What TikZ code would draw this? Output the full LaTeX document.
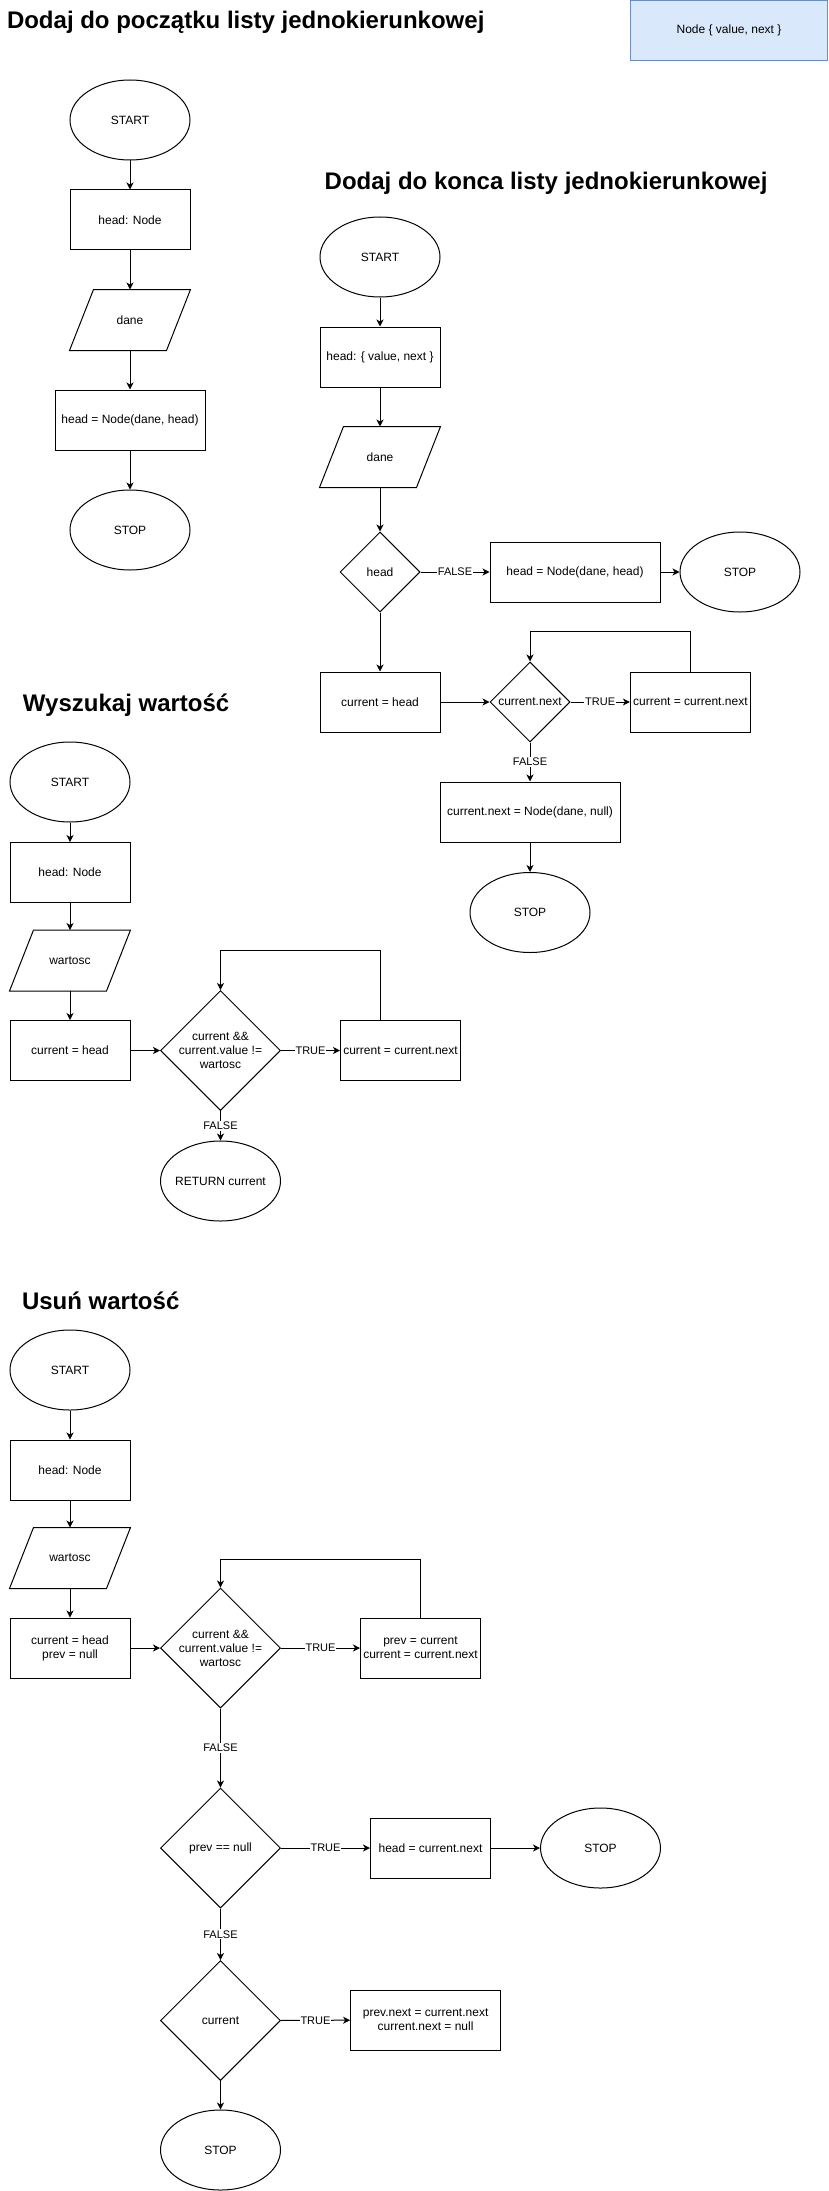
\documentclass[tikz,border=0pt]{standalone}
\usepackage{fontspec}
\setmainfont{Liberation Sans}
\usetikzlibrary{shapes.geometric,arrows.meta}

\definecolor{legendfill}{HTML}{DAE8FC}
\definecolor{legenddraw}{HTML}{6C8EBF}

\tikzset{
  terminal/.style={ellipse, draw, minimum width=120pt, minimum height=80pt, inner sep=0pt},
  process/.style={rectangle, draw, minimum width=120pt, minimum height=60pt, inner sep=0pt, align=center},
  inputbox/.style={rectangle, minimum width=120pt, minimum height=60pt, inner sep=0pt},
  decision/.style={diamond, draw, minimum width=80pt, minimum height=80pt, inner sep=0pt, align=center},
  lbl/.style={fill=white, inner sep=1pt, font=\fontsize{11}{13}\selectfont},
  heading/.style={anchor=base west, inner sep=0pt, font=\fontsize{24}{28}\selectfont\bfseries},
}

\begin{document}
\begin{tikzpicture}[x=1pt, y=-1pt, line width=1pt, font=\fontsize{12}{14}\selectfont, >={Stealth[length=7pt,width=7pt,inset=2pt]}]
    \useasboundingbox (0,0) rectangle (828,2191);
    % legend
    \node at (729,30.5) [rectangle, draw=legenddraw, fill=legendfill, minimum width=197pt, minimum height=60pt, inner sep=0pt] (legend) {Node \{ value, next \}};

    % Dodaj do poczatku
    \node at (6.5,28.3) [heading] (t1) {Dodaj do początku listy jednokierunkowej};
    \node at (130,120) [terminal] (s1) {START};
    \node at (130,220) [process] (a1) {head: Node};
    \node at (130,320) [inputbox] (i1) {dane};
    \node at (130,420) [process, minimum width=150pt] (b1) {head = Node(dane, head)};
    \node at (130,530) [terminal] (e1) {STOP};
    \draw (s1)[->] -- (a1);
    \draw (a1)[->] -- (i1);
    \draw (i1)[->] -- (b1);
    \draw (b1)[->] -- (e1);

    % Dodaj do konca
    \node at (324.2,189.3) [heading] (t2) {Dodaj do konca listy jednokierunkowej};
    \node at (380,257) [terminal] (s2) {START};
    \node at (380,357) [process] (a2) {head: \{ value, next \}};
    \node at (380,457) [inputbox] (i2) {dane};
    \node at (380,572) [decision] (d2) {head};
    \node at (575,572) [process, minimum width=170pt] (b2) {head = Node(dane, head)};
    \node at (740,572) [terminal] (e2) {STOP};
    \node at (380,702) [process] (c2) {current = head};
    \node at (530,702) [decision] (w2) {current.next};
    \node at (690.4,702) [process] (n2) {current = current.next};
    \node at (530,812) [process, minimum width=180pt] (f2) {current.next = Node(dane, null)};
    \node at (530,912.5) [terminal] (g2) {STOP};
    \draw (s2)[->] -- (a2);
    \draw (a2)[->] -- (i2);
    \draw (i2)[->] -- (d2);
    \draw (d2)[->] -- node[lbl]{FALSE} (b2);
    \draw (b2)[->] -- (e2);
    \draw (d2)[->] -- (c2);
    \draw (c2)[->] -- (w2);
    \draw (w2)[->] -- node[lbl]{TRUE} (n2);
    \draw (n2.north)[->] -- ++(0,-40) -| (w2.north);
    \draw (w2)[->] -- node[lbl]{FALSE} (f2);
    \draw (f2)[->] -- (g2);

    % Wyszukaj
    \node at (22.5,711) [heading] (t3) {Wyszukaj wartość};
    \node at (70,782) [terminal] (s3) {START};
    \node at (70,872.5) [process] (a3) {head: Node};
    \node at (70,960.5) [inputbox] (i3) {wartosc};
    \node at (70,1050.5) [process] (c3) {current = head};
    \node at (220.5,1050.5) [decision, minimum width=120pt, minimum height=120pt, label={[align=center]center:current \&\&\\current.value !=\\wartosc}] (w3) {};
    \node at (400.5,1050.5) [process] (n3) {current = current.next};
    \node at (220.5,1181) [terminal, label=center:RETURN current] (r3) {};
    \draw (s3)[->] -- (a3);
    \draw (a3)[->] -- (i3);
    \draw (i3)[->] -- (c3);
    \draw (c3)[->] -- (w3);
    \draw (w3)[->] -- node[lbl]{TRUE} (n3);
    \draw ([xshift=-20pt]n3.north)[->] -- ++(0,-70) -| (w3.north);
    \draw (w3)[->] -- node[lbl]{FALSE} (r3);

    % Usun
    \node at (21.5,1309) [heading] (t4) {Usuń wartość};
    \node at (70,1370) [terminal] (s4) {START};
    \node at (70,1470) [process] (a4) {head: Node};
    \node at (70,1558) [inputbox] (i4) {wartosc};
    \node at (70,1648) [process] (c4) {current = head\\prev = null};
    \node at (220.5,1648) [decision, minimum width=120pt, minimum height=120pt, label={[align=center]center:current \&\&\\current.value !=\\wartosc}] (w4) {};
    \node at (420.5,1648) [process] (n4) {prev = current\\current = current.next};
    \node at (220.5,1848) [decision, minimum width=120pt, minimum height=120pt] (p4) {prev == null};
    \node at (430.5,1848) [process] (h4) {head = current.next};
    \node at (600.5,1848) [terminal] (e4) {STOP};
    \node at (220.5,2020.5) [decision, minimum width=120pt, minimum height=120pt] (q4) {current};
    \node at (425.6,2020) [process, minimum width=150pt] (m4) {prev.next = current.next\\current.next = null};
    \node at (220.5,2150) [terminal] (g4) {STOP};
    \draw (s4)[->] -- (a4);
    \draw (a4)[->] -- (i4);
    \draw (i4)[->] -- (c4);
    \draw (c4)[->] -- (w4);
    \draw (w4)[->] -- node[lbl]{TRUE} (n4);
    \draw (n4.north)[->] -- ++(0,-58) -| (w4.north);
    \draw (w4)[->] -- node[lbl]{FALSE} (p4);
    \draw (p4)[->] -- node[lbl]{TRUE} (h4);
    \draw (h4)[->] -- (e4);
    \draw (p4)[->] -- node[lbl]{FALSE} (q4);
    \draw (q4)[->] -- node[lbl]{TRUE} (m4);
    \draw (q4)[->] -- (g4);

    % parallelogram outlines of the input nodes
    \foreach \n in {i1,i2,i3,i4}
        \draw ([xshift=24pt]\n.north west) -- (\n.north east) -- ([xshift=-24pt]\n.south east) -- (\n.south west) -- cycle;
\end{tikzpicture}
\end{document}
